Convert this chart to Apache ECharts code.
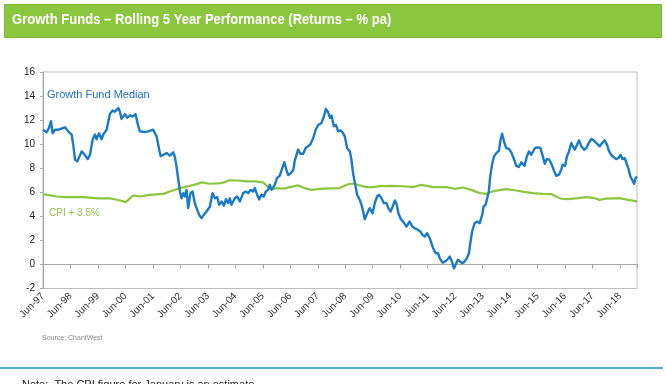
<!DOCTYPE html>
<html>
<head>
<meta charset="utf-8">
<script src="https://cdn.jsdelivr.net/npm/echarts@6/dist/echarts.min.js"></script>
<style>
html,body{margin:0;padding:0;background:#fff;}
#chart{width:667px;height:384px;}
</style>
</head>
<body>
<div id="chart"></div>
<script>
// x values are months since Jun-97
const yearLabels = ['Jun-97','Jun-98','Jun-99','Jun-00','Jun-01','Jun-02','Jun-03','Jun-04','Jun-05','Jun-06','Jun-07','Jun-08','Jun-09','Jun-10','Jun-11','Jun-12','Jun-13','Jun-14','Jun-15','Jun-16','Jun-17','Jun-18'];
const yTicks = [-2, 16, 2]; // min, max, step

const growthFundMedian = [
[0,11.2],[1.6,11.0],[2.6,11.35],[3.5,11.9],[4.2,10.9],[5.2,11.2],[6.7,11.2],[9.6,11.4],[11,11.07],[12.5,10.8],[13.2,9.96],[14,8.7],[15,8.57],[15.8,8.57],[16.9,9.4],[17.6,9.5],[18.3,9.1],[19.5,8.76],[20.5,9.1],[21.7,10.4],[22.7,10.8],[23.4,10.4],[24.4,10.9],[25.6,10.4],[26.3,10.8],[27.8,11.2],[29.2,12.5],[30.4,12.8],[31.4,12.7],[32.9,13.0],[33.6,12.7],[34.3,12.1],[35.8,12.5],[36.8,12.2],[38,12.4],[39.1,12.3],[40.4,12.5],[41.6,11.5],[42.3,11.07],[44.5,11.0],[46,11.07],[48.1,11.2],[49.6,10.65],[50.8,9.5],[51.4,9.0],[52.2,9.1],[54,9.27],[55.4,9.04],[56.9,9.32],[57.6,8.93],[58.3,8.15],[59.1,7.04],[59.8,6.07],[60.5,5.5],[61.3,5.93],[62,5.65],[62.7,6.2],[63.4,4.68],[64.4,5.93],[65.3,6.07],[66.3,5.1],[67.1,4.68],[68.2,4.12],[69.2,3.85],[70.2,4.12],[71.4,4.4],[72.9,4.82],[74,5.93],[75.1,5.5],[76.1,5.6],[76.9,4.96],[78,5.24],[79,4.88],[79.9,5.43],[80.9,5.1],[81.6,5.5],[82.3,4.96],[83.8,5.5],[84.8,5.65],[86,5.24],[87.4,5.93],[88.6,6.07],[89.6,5.93],[90.6,6.2],[91.8,6.07],[92.5,6.35],[93.5,5.8],[94.4,5.4],[95.4,5.8],[96.4,5.65],[97.3,6.07],[98.3,6.2],[99,6.62],[99.8,6.2],[100.5,6.07],[101.2,6.62],[102.2,7.18],[103.4,7.38],[104.5,8.0],[105.4,8.5],[106.3,7.85],[107.1,7.43],[108.1,7.57],[109.3,7.85],[110,8.68],[111.4,9.54],[112.4,9.2],[113.6,9.2],[114.7,9.68],[115.7,9.82],[116.7,9.96],[118,10.51],[119.1,11.2],[120.2,11.6],[121.6,11.76],[122.7,12.32],[123.5,12.93],[124.5,12.65],[125.3,12.18],[126,12.38],[127,11.49],[127.9,11.6],[128.9,11.07],[129.9,11.15],[130.8,10.99],[131.8,10.65],[132.8,9.68],[134,9.4],[134.7,8.7],[135.4,7.6],[136.2,6.76],[137.2,5.79],[138.3,5.38],[139.1,4.96],[139.8,4.4],[140.5,3.76],[141.6,4.26],[142.7,4.68],[143.9,4.26],[144.9,5.1],[145.9,5.65],[146.8,5.79],[147.8,5.51],[148.9,5.1],[150,5.1],[150.8,4.68],[151.8,4.4],[152.7,4.82],[153.7,5.32],[154.5,4.96],[155.2,4.26],[156.3,3.76],[157.5,3.5],[158.7,3.15],[160.1,3.57],[161.3,3.15],[162.3,3.01],[163.8,2.87],[164.8,2.74],[165.7,2.46],[166.7,2.32],[167.7,2.6],[168.9,2.18],[169.6,1.76],[170.4,1.35],[171.5,0.93],[172.5,0.93],[173.3,0.51],[174.5,0.15],[175.5,0.24],[176.5,0.38],[177.6,0.65],[178.6,0.24],[179.4,-0.32],[180.2,-0.18],[181.2,0.38],[182.2,0.24],[183.1,0.1],[184.1,0.24],[185.1,0.51],[186,0.93],[186.6,1.76],[187.4,2.74],[188.5,3.43],[189.5,3.57],[190.7,3.43],[191.8,4.12],[192.4,4.82],[193.3,4.96],[193.9,4.82],[194.7,6.07],[195.3,7.32],[196.2,8.4],[196.9,8.96],[197.9,9.24],[199.1,9.46],[199.8,10.37],[200.5,10.87],[201.3,10.23],[202.3,9.68],[203.5,9.6],[204.5,9.32],[205.5,8.85],[206.7,8.2],[207.8,8.1],[208.9,8.49],[210.3,8.2],[211.3,8.98],[212.2,9.4],[213.2,9.12],[213.9,8.98],[214.9,9.68],[216.1,9.74],[217.2,9.68],[218.3,8.98],[219.1,8.37],[220,8.76],[221.1,8.71],[222.2,8.29],[223.1,7.82],[224.1,7.37],[225.3,7.46],[226.3,7.88],[227,8.29],[228,8.2],[228.8,8.98],[229.7,9.4],[230.7,10.1],[231.4,10.23],[232.2,9.54],[232.9,9.82],[234.1,10.32],[235.1,9.82],[236.3,9.54],[237.3,9.68],[238.3,10.1],[239.5,10.43],[240.5,10.32],[241.6,10.1],[243.1,9.82],[244.2,10.1],[245.2,10.32],[246.3,9.96],[247.1,9.46],[248.1,9.12],[249.2,8.93],[250.3,8.76],[251.3,8.85],[252.2,9.12],[253,8.76],[254,8.85],[254.7,8.71],[255.6,8.01],[256.5,7.32],[257.3,7.04],[258.1,6.7],[258.8,7.18],[259.4,7.32]
];

const cpiPlus35 = [
[0,5.85],[5.9,5.65],[10.2,5.6],[17.6,5.6],[24.1,5.5],[29.2,5.5],[33.6,5.32],[36.2,5.18],[38,5.5],[39.4,5.74],[42.3,5.65],[46.7,5.79],[52.5,5.87],[55.4,6.07],[59.8,6.35],[64.2,6.54],[67.1,6.68],[69.2,6.82],[72.9,6.71],[78,6.76],[80.1,6.9],[81.6,7.0],[85.2,6.98],[88.9,6.9],[92.5,6.9],[96.2,6.82],[97.6,6.54],[99.8,6.26],[101.9,6.35],[105.3,6.3],[107.8,6.43],[111.4,6.57],[114.3,6.35],[117.2,6.2],[120.8,6.29],[125.3,6.32],[129.6,6.35],[131.8,6.57],[134,6.71],[136.2,6.71],[138.3,6.57],[141.3,6.43],[144.2,6.43],[147.1,6.51],[151.5,6.54],[157.4,6.5],[161.6,6.43],[165.3,6.62],[170.4,6.43],[176.2,6.43],[179.8,6.29],[183.4,6.4],[187.1,6.2],[190.7,5.93],[193.6,5.87],[197.2,6.12],[202.3,6.26],[206.7,6.15],[210,6.04],[213.9,5.93],[218.3,5.87],[221.9,5.85],[224.1,5.65],[226.3,5.46],[229.2,5.43],[233.6,5.51],[237.3,5.6],[240.9,5.51],[243.1,5.37],[246,5.48],[251.8,5.51],[255.4,5.37],[259.4,5.25]
];

const titleText = 'Growth Funds \u2013 Rolling 5 Year Performance (Returns \u2013 % pa)';
const fundLabel = 'Growth Fund Median';
const cpiLabel = 'CPI + 3.5%';
const sourceText = 'Source: ChantWest';
const noteText = 'Note:  The CPI figure for January is an estimate';

const xMax = 259.4;
const chart = echarts.init(document.getElementById('chart'), null, {renderer: 'canvas'});
const axisGrey = '#a6a6a6';
const font = "'Liberation Sans', Arial, sans-serif";

chart.setOption({
  animation: false,
  backgroundColor: '#fff',
  grid: {left: 43, right: 30, top: 72, bottom: 95.5, show: true, borderColor: '#bdbdbd', borderWidth: 1},
  xAxis: [{
    type: 'value', min: 0, max: xMax, interval: 12, position: 'bottom',
    axisLine: {show: false, onZero: false}, axisTick: {show: false}, splitLine: {show: false},
    axisLabel: {rotate: 45, margin: 6, fontSize: 10, color: '#333', fontFamily: font,
      formatter: v => (v % 12 === 0 ? (yearLabels[v / 12] || '') : '')}
  }, {
    type: 'value', min: 0, max: xMax, interval: 12, position: 'bottom',
    axisLine: {show: true, onZero: true, onZeroAxisIndex: 0, lineStyle: {color: axisGrey, width: 1}},
    axisTick: {show: true, length: 4, lineStyle: {color: axisGrey}},
    axisLabel: {show: false}, splitLine: {show: false}
  }],
  yAxis: {
    type: 'value', min: yTicks[0], max: yTicks[1], interval: yTicks[2],
    axisLine: {show: true, lineStyle: {color: axisGrey}},
    axisTick: {show: true, length: 3, lineStyle: {color: axisGrey}},
    splitLine: {show: false},
    axisLabel: {fontSize: 10, color: '#222', margin: 8, fontFamily: font}
  },
  series: [{
    name: fundLabel, type: 'line', xAxisIndex: 0, data: growthFundMedian, showSymbol: false,
    lineStyle: {color: '#1b7ac6', width: 2.4, join: 'round'}, z: 3
  }, {
    name: cpiLabel, type: 'line', xAxisIndex: 0, data: cpiPlus35, showSymbol: false,
    lineStyle: {color: '#8cc63f', width: 2.2}, z: 2
  }],
  graphic: [
    {type: 'rect', left: 4, top: 4, shape: {width: 657, height: 33}, style: {fill: '#8cc63e', stroke: '#7db535', lineWidth: 1}, z: 0},
    {type: 'text', x: 12, y: 12, scaleX: 0.87, style: {text: titleText, fill: '#fff', font: "bold 15px 'Liberation Sans', Arial, sans-serif"}},
    {type: 'text', left: 47, top: 89, style: {text: fundLabel, fill: '#1f6fc5', font: "11px " + font}},
    {type: 'text', left: 49, top: 208, style: {text: cpiLabel, fill: '#8cc63f', font: "10px " + font}},
    {type: 'text', left: 42, top: 335, style: {text: sourceText, fill: '#8a8a8a', font: "7px " + font}},
    {type: 'line', shape: {x1: 0, y1: 368, x2: 663, y2: 368}, style: {stroke: '#2b86c9', lineWidth: 1.5}},
    {type: 'text', left: 22, top: 379, style: {text: noteText, fill: '#222', font: "11px " + font}}
  ]
});
</script>
</body>
</html>
